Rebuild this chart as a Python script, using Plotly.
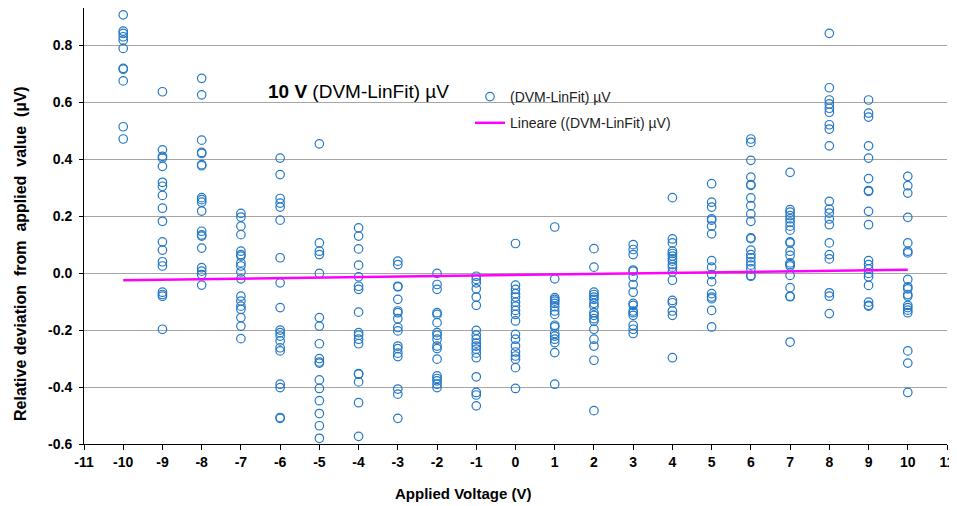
import numpy as np
import plotly.graph_objects as go

# ---- data ----
y_m10 = [0.907, 0.850, 0.842, 0.830, 0.818, 0.789, 0.719, 0.716, 0.675, 0.514, 0.471]
y_m9 = [0.637, 0.433, 0.410, 0.404, 0.375, 0.319, 0.305, 0.273, 0.228, 0.182, 0.110, 0.081,
        0.040, 0.025, -0.067, -0.075, -0.081, -0.197]
y_m8 = [0.684, 0.626, 0.467, 0.424, 0.420, 0.381, 0.377, 0.265, 0.258, 0.249, 0.218, 0.147,
        0.134, 0.130, 0.088, 0.019, 0.007, -0.005, -0.042]
y_m7 = [0.210, 0.197, 0.165, 0.135, 0.077, 0.065, 0.060, 0.036, 0.025, 0.004, -0.020, -0.081,
        -0.098, -0.116, -0.127, -0.156, -0.186, -0.230]
y_m6 = [0.404, 0.346, 0.262, 0.246, 0.232, 0.186, 0.054, -0.034, -0.121, -0.200, -0.209, -0.221,
        -0.238, -0.262, -0.273, -0.390, -0.402, -0.507, -0.510]
y_m5 = [0.454, 0.106, 0.077, 0.065, -0.001, -0.156, -0.186, -0.248, -0.300, -0.312, -0.316,
        -0.375, -0.405, -0.448, -0.493, -0.536, -0.580]
y_m4 = [0.159, 0.130, 0.085, 0.028, -0.013, -0.046, -0.057, -0.137, -0.209, -0.218, -0.232,
        -0.248, -0.353, -0.355, -0.382, -0.455, -0.573]
y_m3 = [0.042, 0.030, -0.046, -0.048, -0.092, -0.133, -0.139, -0.160, -0.191, -0.203, -0.256,
        -0.265, -0.281, -0.293, -0.407, -0.425, -0.510]
y_m2 = [-0.001, -0.040, -0.057, -0.139, -0.145, -0.174, -0.209, -0.218, -0.232, -0.256, -0.265,
        -0.302, -0.361, -0.370, -0.378, -0.390, -0.402]
y_m1 = [-0.011, -0.022, -0.034, -0.055, -0.084, -0.113, -0.201, -0.218, -0.232, -0.246, -0.256,
        -0.267, -0.281, -0.297, -0.364, -0.419, -0.428, -0.466]
y_0 = [0.104, -0.042, -0.057, -0.072, -0.084, -0.102, -0.116, -0.131, -0.145, -0.168, -0.215,
       -0.232, -0.256, -0.277, -0.291, -0.302, -0.332, -0.405]
y_1 = [0.162, -0.020, -0.086, -0.092, -0.098, -0.106, -0.118, -0.133, -0.145, -0.183, -0.189,
       -0.212, -0.221, -0.232, -0.244, -0.279, -0.390]
y_2 = [0.086, 0.021, -0.067, -0.075, -0.084, -0.092, -0.106, -0.116, -0.139, -0.148, -0.160,
       -0.168, -0.197, -0.232, -0.256, -0.306, -0.483]
y_3 = [0.100, 0.083, 0.065, 0.011, 0.007, -0.014, -0.040, -0.067, -0.106, -0.113, -0.133,
       -0.139, -0.148, -0.183, -0.197, -0.212]
y_4 = [0.265, 0.120, 0.106, 0.077, 0.069, 0.060, 0.050, 0.042, 0.030, 0.021, 0.004, -0.025,
       -0.096, -0.104, -0.133, -0.148, -0.297]
y_5 = [0.314, 0.249, 0.232, 0.191, 0.186, 0.165, 0.138, 0.044, 0.021, -0.005, -0.030, -0.072,
       -0.084, -0.090, -0.131, -0.189]
y_6 = [0.471, 0.459, 0.396, 0.337, 0.311, 0.308, 0.264, 0.237, 0.208, 0.182, 0.124, 0.121,
       0.081, 0.065, 0.054, 0.040, 0.028, 0.015, -0.008, -0.011]
y_7 = [0.354, 0.223, 0.214, 0.202, 0.191, 0.179, 0.165, 0.151, 0.110, 0.106, 0.077, 0.062,
       0.036, 0.030, 0.025, -0.008, -0.051, -0.081, -0.083, -0.242]
y_8 = [0.842, 0.651, 0.608, 0.594, 0.579, 0.565, 0.521, 0.506, 0.447, 0.252, 0.225, 0.211,
       0.190, 0.170, 0.106, 0.065, 0.050, -0.069, -0.081, -0.142]
y_9 = [0.608, 0.562, 0.548, 0.447, 0.404, 0.332, 0.290, 0.287, 0.217, 0.170, 0.044, 0.030,
       0.015, -0.001, -0.013, -0.043, -0.102, -0.113, -0.116]
y_10 = [0.340, 0.307, 0.281, 0.196, 0.106, 0.077, 0.071, -0.022, -0.048, -0.055, -0.075,
        -0.081, -0.113, -0.121, -0.130, -0.139, -0.273, -0.316, -0.419]

voltages = list(range(-10, 11))
columns = [y_m10, y_m9, y_m8, y_m7, y_m6, y_m5, y_m4, y_m3, y_m2, y_m1, y_0,
           y_1, y_2, y_3, y_4, y_5, y_6, y_7, y_8, y_9, y_10]

trend_x = [-10, 10]
trend_y = [-0.025, 0.012]

x_ticks = list(range(-11, 12))
y_ticks = [-0.6, -0.4, -0.2, 0.0, 0.2, 0.4, 0.6, 0.8]

# ---- assemble ----
xs, ys = [], []
for v, col in zip(voltages, columns):
    xs.extend([v] * len(col))
    ys.extend(col)

BLUE = "#2478C6"
FONT = "Liberation Sans, Arial, sans-serif"

# page has an 8px body margin: work in page pixels, convert to figure pixels
OFF = 8
W, H = 957 - OFF, 506 - OFF
L, R, T, B = 84 - OFF, 947 - OFF, 8 - OFF, 444 - OFF
PW, PH = R - L, B - T


def px(xpage):
    return (xpage - OFF - L) / PW


def py(ypage):
    return (B - (ypage - OFF)) / PH


fig = go.Figure()
fig.add_trace(go.Scatter(
    x=xs, y=ys, mode="markers", name="(DVM-LinFit) µV",
    marker=dict(symbol="circle-open", size=8.5, color=BLUE, line=dict(width=1.2, color=BLUE)),
    legendgroup="a",
))
fig.add_trace(go.Scatter(
    x=trend_x, y=trend_y, mode="lines", name="Lineare ((DVM-LinFit) µV)",
    line=dict(color="#FF00FF", width=2.5),
    legendgroup="b",
))

# white box behind legend (hides the 0.6 gridline like the reference)
fig.add_shape(type="rect", xref="paper", yref="paper",
              x0=px(454), x1=px(700), y0=py(135), y1=py(85),
              fillcolor="white", line=dict(width=0), layer="between")

fig.add_annotation(
    text="<b>10 V</b> (DVM-LinFit) µV", xref="paper", yref="paper",
    x=px(266), y=py(92), xanchor="left", yanchor="middle",
    showarrow=False, font=dict(family=FONT, size=19, color="black"),
)
# axis titles
fig.add_annotation(
    text="<b>Applied Voltage (V)</b>", xref="paper", yref="paper",
    x=px(463), y=py(493), xanchor="center", yanchor="middle",
    showarrow=False, font=dict(family=FONT, size=15, color="black"),
)
fig.add_annotation(
    text="<b>Relative deviation  from  applied  value  (µV)</b>", xref="paper", yref="paper",
    x=px(20), y=py(254), xanchor="center", yanchor="middle", textangle=-90,
    showarrow=False, font=dict(family=FONT, size=16, color="black"),
)

fig.update_layout(
    width=W, height=H,
    margin=dict(l=L, r=W - R, t=T, b=H - B, autoexpand=False),
    paper_bgcolor="white", plot_bgcolor="white",
    font=dict(family=FONT, color="black"),
    showlegend=True,
    legend=dict(
        x=px(470), y=py(81), xanchor="left", yanchor="top",
        bgcolor="rgba(0,0,0,0)", font=dict(family=FONT, size=14, color="#222"),
        tracegroupgap=5, traceorder="grouped",
    ),
    xaxis=dict(
        range=[-11, 11], tickmode="array", tickvals=x_ticks,
        ticktext=[f"<b>{t}</b>" for t in x_ticks],
        tickfont=dict(family=FONT, size=14, color="black"),
        showgrid=False, zeroline=False, showline=True, linecolor="black", linewidth=1,
        ticks="outside", ticklen=5, tickcolor="black", automargin=False,
    ),
    yaxis=dict(
        range=[-0.6, 0.931], tickmode="array", tickvals=y_ticks,
        ticktext=[f"<b>{t:.1f}</b>" for t in y_ticks],
        tickfont=dict(family=FONT, size=14, color="black"),
        showgrid=True, gridcolor="#A6A6A6", gridwidth=1,
        zeroline=False, showline=True, linecolor="black", linewidth=1,
        ticks="outside", ticklen=4, tickcolor="black", automargin=False,
        ticklabelstandoff=4,
    ),
)

fig.write_html("out.html")
